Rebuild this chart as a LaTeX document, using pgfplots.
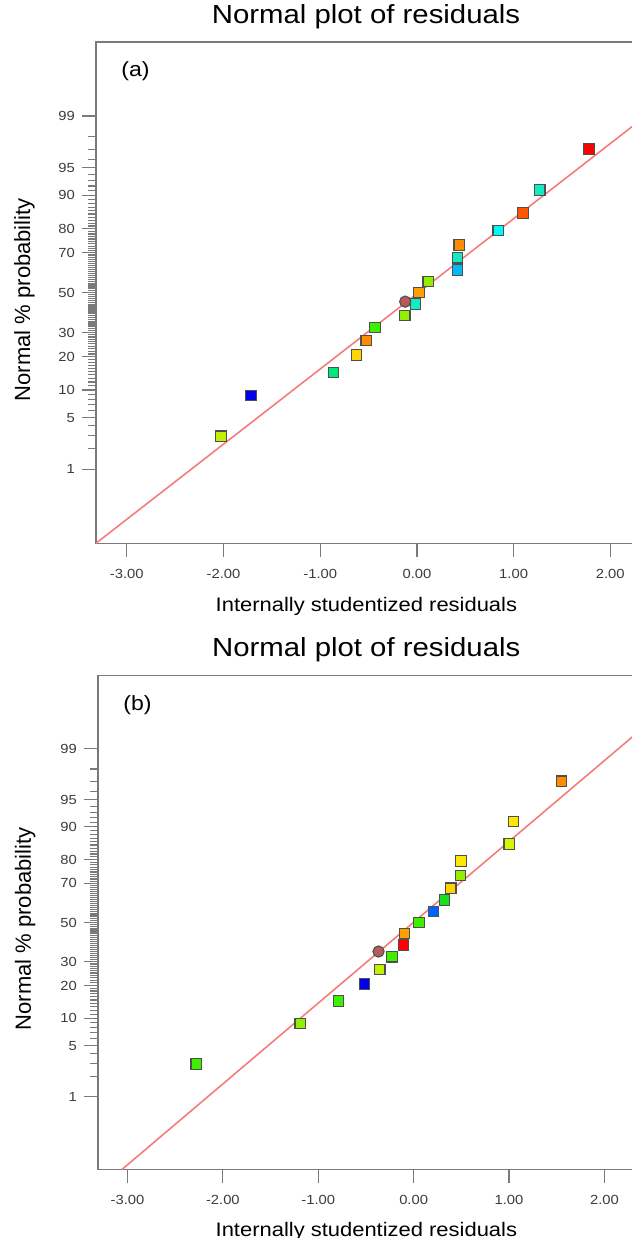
\documentclass[border=0pt]{standalone}
\usepackage{fontspec}
\setmainfont{Liberation Sans}
\newfontfamily\wide[FakeStretch=1.12]{Liberation Sans}
\usepackage{pgfplots}
\usepackage{pgfplotstable}
\pgfplotsset{compat=1.18}

\definecolor{axgray}{HTML}{7A7A7A}
\definecolor{fitline}{HTML}{F47C7C}
\definecolor{tickgray}{HTML}{3C3C3C}
\definecolor{circ}{HTML}{B95A5A}
\definecolor{edge}{HTML}{4F4F4F}

% point colours
\definecolor{ylg}{RGB}{195,240,0}
\definecolor{blu}{RGB}{0,0,235}
\definecolor{spg}{RGB}{0,232,120}
\definecolor{yel}{RGB}{255,212,0}
\definecolor{org}{RGB}{255,140,0}
\definecolor{grn}{RGB}{60,240,0}
\definecolor{lim}{RGB}{145,240,0}
\definecolor{aqu}{RGB}{20,235,195}
\definecolor{ora}{RGB}{255,160,0}
\definecolor{sky}{RGB}{0,185,245}
\definecolor{cya}{RGB}{0,250,250}
\definecolor{orr}{RGB}{255,85,0}
\definecolor{red}{RGB}{255,0,0}
\definecolor{blm}{RGB}{0,100,255}
\definecolor{gr2}{RGB}{20,225,30}
\definecolor{ye2}{RGB}{255,232,0}
\definecolor{ylm}{RGB}{215,245,0}

% y = normal quantile (probit) of the cumulative probability
\pgfplotstableread{
x y c
-2.025 -1.890 ylg
-1.716 -1.352 blu
-0.8625 -1.049 spg
-0.625 -0.821 yel
-0.525 -0.629 org
-0.434 -0.459 grn
-0.125 -0.300 lim
-0.0125 -0.148 aqu
0.020 0.000 ora
0.117 0.148 lim
0.420 0.300 sky
0.420 0.459 aqu
0.4375 0.629 org
0.841 0.821 cya
1.096 1.049 orr
1.271 1.352 aqu
1.779 1.890 red
}\dataA

\pgfplotstableread{
x y c
-2.280 -1.890 grn
-1.189 -1.352 lim
-0.787 -1.049 grn
-0.513 -0.821 blu
-0.355 -0.629 ylg
-0.228 -0.459 grn
-0.107 -0.300 red
-0.094 -0.148 ora
0.055 0.000 grn
0.207 0.148 blm
0.325 0.300 gr2
0.389 0.459 yel
0.490 0.629 lim
0.495 0.821 ye2
1.002 1.049 ylm
1.048 1.352 ye2
1.552 1.890 org
}\dataB

\pgfplotsset{
  npp/.style={
    scale only axis,
    anchor=south west,
    axis line style={axgray, line width=0.75pt},
    every tick/.style={axgray, line width=0.6pt},
    tick align=outside,
    major tick length=7pt,
    minor tick length=3.8pt,
    xtick pos=bottom, ytick pos=left,
    ymin=-3.3, ymax=3.3,
    xtick={-3,-2,-1,0,1,2},
    xticklabels={-3.00,-2.00,-1.00,0.00,1.00,2.00},
    ytick={-2.3263,-1.6449,-1.2816,-0.8416,-0.5244,0,0.5244,0.8416,1.2816,1.6449,2.3263},
    yticklabels={1,5,10,20,30,50,70,80,90,95,99},
    minor ytick={-2.0537,-1.8808,-1.7507,-1.5548,-1.4758,-1.4051,-1.3408,-1.2265,-1.1750,-1.1264,-1.0803,-1.0364,-0.9945,-0.9542,-0.9154,-0.8779,-0.8064,-0.7722,-0.7388,-0.7063,-0.6745,-0.6433,-0.6128,-0.5828,-0.5534,-0.4959,-0.4677,-0.4399,-0.4125,-0.3853,-0.3585,-0.3319,-0.3055,-0.2793,-0.2533,-0.2275,-0.2019,-0.1764,-0.1510,-0.1257,-0.1004,-0.0753,-0.0502,-0.0251,
    0.0251,0.0502,0.0753,0.1004,0.1257,0.1510,0.1764,0.2019,0.2275,0.2533,0.2793,0.3055,0.3319,0.3585,0.3853,0.4125,0.4399,0.4677,0.4959,0.5534,0.5828,0.6128,0.6433,0.6745,0.7063,0.7388,0.7722,0.8064,0.8779,0.9154,0.9542,0.9945,1.0364,1.0803,1.1264,1.1750,1.2265,1.3408,1.4051,1.4758,1.5548,1.7507,1.8808,2.0537},
    ticklabel style={font=\wide\fontsize{6.6}{7}\selectfont, text=tickgray},
    xticklabel style={yshift=-2.5pt},
    title style={font=\wide\fontsize{13.1}{15}\selectfont, anchor=base},
    xlabel style={font=\wide\fontsize{9.8}{11}\selectfont, anchor=base},
    ylabel style={font=\fontsize{11}{13}\selectfont, anchor=base},
    title={Normal plot of residuals},
    xlabel={Internally studentized residuals},
    ylabel={Normal \% probability},
  },
  pts/.style={
    scatter, only marks, mark=square*, mark size=2.6pt,
    point meta=explicit symbolic,
    scatter/classes={
      ylg={mark=square*, draw=edge, fill=ylg, line width=0.55pt},
      blu={mark=square*, draw=edge, fill=blu, line width=0.55pt},
      spg={mark=square*, draw=edge, fill=spg, line width=0.55pt},
      yel={mark=square*, draw=edge, fill=yel, line width=0.55pt},
      org={mark=square*, draw=edge, fill=org, line width=0.55pt},
      grn={mark=square*, draw=edge, fill=grn, line width=0.55pt},
      lim={mark=square*, draw=edge, fill=lim, line width=0.55pt},
      aqu={mark=square*, draw=edge, fill=aqu, line width=0.55pt},
      ora={mark=square*, draw=edge, fill=ora, line width=0.55pt},
      sky={mark=square*, draw=edge, fill=sky, line width=0.55pt},
      cya={mark=square*, draw=edge, fill=cya, line width=0.55pt},
      orr={mark=square*, draw=edge, fill=orr, line width=0.55pt},
      red={mark=square*, draw=edge, fill=red, line width=0.55pt},
      blm={mark=square*, draw=edge, fill=blm, line width=0.55pt},
      gr2={mark=square*, draw=edge, fill=gr2, line width=0.55pt},
      ye2={mark=square*, draw=edge, fill=ye2, line width=0.55pt},
      ylm={mark=square*, draw=edge, fill=ylm, line width=0.55pt}},
  },
  cpt/.style={only marks, mark=*, mark size=2.8pt,
    mark options={fill=circ, draw=edge, line width=0.55pt}},
}

\begin{document}
\begin{tikzpicture}
\begin{axis}[npp, at={(47.95pt,-271.65pt)},
  width=269.05pt, height=250.65pt, xmin=-3.32, xmax=2.245,
  title style={at={(axis description cs:0.502,1)}, yshift=3.5pt},
  xlabel style={at={(axis description cs:0.5027,0)}, yshift=-33.9pt},
  ylabel style={at={([xshift=-32.9pt]axis description cs:0,0.486)}}]
\addplot[fitline, line width=0.8pt, no marks] coordinates {(-3.32,-3.3) (2.3,2.26)};
\addplot[pts] table[x=x, y=y, meta=c] {\dataA};
\addplot[cpt] coordinates {(-0.121,-0.118)};
\node[anchor=base west, inner sep=0pt, font=\wide\fontsize{10.3}{12}\selectfont] at (rel axis cs:0.0466,0.932) {(a)};
\end{axis}
\begin{axis}[npp, at={(48.95pt,-584.65pt)},
  width=268.05pt, height=246.8pt, xmin=-3.31, xmax=2.31,
  title style={at={(axis description cs:0.5005,1)}, yshift=3.7pt},
  xlabel style={at={(axis description cs:0.5008,0)}, yshift=-33.5pt},
  ylabel style={at={([xshift=-33.5pt]axis description cs:0,0.487)}}]
\addplot[fitline, line width=0.8pt, no marks] coordinates {(-3.056,-3.3) (2.4,2.598)};
\addplot[pts] table[x=x, y=y, meta=c] {\dataB};
\addplot[cpt] coordinates {(-0.368,-0.388)};
\node[anchor=base west, inner sep=0pt, font=\wide\fontsize{10.3}{12}\selectfont] at (rel axis cs:0.0468,0.9305) {(b)};
\end{axis}
\pgfresetboundingbox
\useasboundingbox (0,0) rectangle (316pt,-619pt);
\end{tikzpicture}
\end{document}
